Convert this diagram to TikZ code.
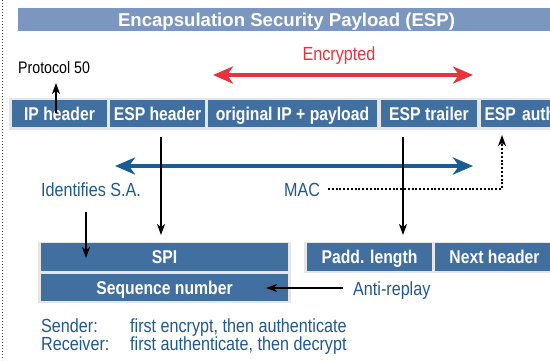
\documentclass[tikz,border=0pt]{standalone}
\usepackage{fontspec}
\setmainfont{Liberation Sans}[FakeStretch=0.85]
\newfontfamily\titlefont{Liberation Sans}
\usetikzlibrary{arrows.meta,calc}
\definecolor{boxblue}{HTML}{4170A0}
\definecolor{titleblue}{HTML}{7B97BF}
\definecolor{stripgray}{HTML}{E6E6E6}
\definecolor{txtblue}{HTML}{21588F}
\definecolor{arrblue}{HTML}{1A5C94}
\definecolor{arrred}{HTML}{E8333C}
\tikzset{
  fieldbox/.style={fill=boxblue, text=white, inner sep=0pt, minimum height=27.5pt,
    text height=13pt, text depth=0pt,
    font=\fontsize{18.5}{18.5}\selectfont\bfseries},
  strip/.style={fill=stripgray},
  lbl/.style={inner sep=0pt, text=txtblue, font=\fontsize{19}{19}\selectfont},
  blk/.style={draw=black, line width=1.2pt, -{Stealth[length=11pt,width=8pt,inset=3pt]}},
  bigarrow/.style={line width=4pt, {Stealth[length=20pt,width=17pt,inset=6pt]}-{Stealth[length=20pt,width=17pt,inset=6pt]}},
}
\begin{document}
\begin{tikzpicture}[x=1pt,y=-1pt]
\useasboundingbox (0,0) rectangle (550,360);
\clip (0,0) rectangle (550,360);
\fill[white] (0,0) rectangle (550,360);
% left dotted border
\draw[line width=1.3pt, draw=black!75, dash pattern=on 1.4pt off 1.6pt] (2.7,0) -- (2.7,360);
% title bar
\fill[titleblue] (18,8) rectangle (560,30.7);
\node[anchor=base, text=white, inner sep=0pt, font=\titlefont\fontsize{18.6}{18.6}\selectfont\bfseries] (title) at (286.5,26) {Encapsulation Security Payload (ESP)};
% header row
\fill[strip] (9,97.5) rectangle (560,129.5);
\node[fieldbox, minimum width=95pt] (ip) at (59.5,113.5) {IP header};
\node[fieldbox, minimum width=95pt] (esph) at (157.5,113.5) {ESP header};
\node[fieldbox, minimum width=169pt] (orig) at (292.5,113.5) {original IP + payload};
\node[fieldbox, minimum width=96pt] (trail) at (429,113.5) {ESP trailer};
\node[fieldbox, text width=88pt, inner xsep=3.5pt, align=left] (auth) at (528.5,113.5) {ESP auth};
% texts
\node[anchor=base west, inner sep=0pt, font=\fontsize{16.7}{16.7}\selectfont] (proto) at (18,73.3) {Protocol 50};
\node[anchor=base, inner sep=0pt, text=arrred, font=\fontsize{19}{19}\selectfont] (enc) at (339,60) {Encrypted};
\node[lbl, anchor=base west] (ident) at (41,196.7) {Identifies S.A.};
\node[lbl, anchor=base west] (mac) at (284,196.7) {MAC};
\node[lbl, anchor=base west] (anti) at (353,295) {Anti-replay};
\node[lbl, anchor=base west] (snd) at (41,332.7) {Sender:};
\node[lbl, anchor=base west] (sndt) at (130,332.7) {first encrypt, then authenticate};
\node[lbl, anchor=base west] (rcv) at (41,350.7) {Receiver:};
\node[lbl, anchor=base west] (rcvt) at (130,350.7) {first authenticate, then decrypt};
% SPI block
\fill[strip] (38,241.5) rectangle (291,303);
\node[fieldbox, minimum width=247pt, minimum height=28pt] (spi) at (164.5,257) {SPI};
\node[fieldbox, minimum width=247pt, minimum height=27pt] (seq) at (164.5,287.5) {Sequence number};
% trailer block
\fill[strip] (304,241.5) rectangle (560,273);
\node[fieldbox, minimum width=125pt, minimum height=28pt] (padd) at (369.5,257) {Padd. length};
\node[fieldbox, minimum width=119pt, minimum height=28pt] (next) at (494.5,257) {Next header};
% big arrows
\coordinate (r1) at (213,75);
\coordinate (r2) at (473,75);
\draw[bigarrow, arrred] (r1) -- (r2);
\coordinate (b1) at (115,166);
\coordinate (b2) at (473,166);
\draw[bigarrow, arrblue] (b1) -- (b2);
% black arrows
\coordinate (p1) at (56,113);
\coordinate (p2) at (56,83);
\draw[blk] (p1) -- (p2);
\coordinate (e1) at (161,137);
\coordinate (e2) at (161,235);
\draw[blk] (e1) -- (e2);
\coordinate (t1) at (403,137);
\coordinate (t2) at (403,235);
\draw[blk] (t1) -- (t2);
\coordinate (i1) at (86,212);
\coordinate (i2) at (86,258);
\draw[blk] (i1) -- (i2);
\coordinate (a1) at (343,288);
\coordinate (a2) at (266,288);
\draw[blk] (a1) -- (a2);
% dotted MAC arrow
\coordinate (m1) at (328,189);
\coordinate (m2) at (502,189);
\coordinate (m3) at (502,135);
\draw[blk, line width=1.1pt, dash pattern=on 2pt off 1.8pt] (m1) -- (m2) -- (m3);
\end{tikzpicture}
\end{document}
